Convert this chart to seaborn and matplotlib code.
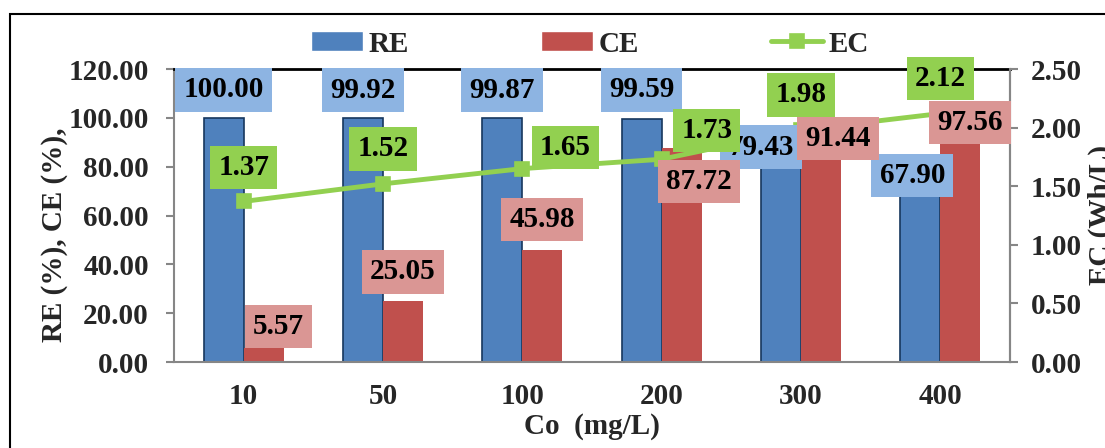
import numpy as np
import pandas as pd
import matplotlib
matplotlib.use("Agg")
import matplotlib.pyplot as plt
from matplotlib.patches import Rectangle
import seaborn as sns

# Data
co = ["10", "50", "100", "200", "300", "400"]
re_vals = [100.00, 99.92, 99.87, 99.59, 79.43, 67.90]
ce_vals = [5.57, 25.05, 45.98, 87.72, 91.44, 97.56]
ec_vals = [1.37, 1.52, 1.65, 1.73, 1.98, 2.12]

# Label offsets in pixels (dx, dy) relative to each data point
re_off = [(0, 28), (0, 28), (0, 28), (0, 29), (-20, 21), (-8, 21)]
ce_off = [(15, 22), (0, 29), (0, 30), (17, -34), (17, 0), (10, 1)]
ec_off = [(0, 34), (0, 35), (43, 21), (45, 29), (0, 35), (0, 35)]

sns.set_style("white")
plt.rcParams["font.family"] = ["Liberation Serif", "DejaVu Serif"]
plt.rcParams["font.weight"] = "bold"
FS = 21

RE_C, CE_C, EC_C = "#4F81BD", "#C0504D", "#92D050"
RE_BOX, CE_BOX = "#8DB4E2", "#DA9694"
GREY = "#868686"

df = pd.DataFrame({
    "Co": co * 2,
    "value": re_vals + ce_vals,
    "series": ["RE"] * len(co) + ["CE"] * len(co),
})

fig = plt.figure(figsize=(11.05, 4.48), dpi=100)
ax = fig.add_axes([174 / 1105, 1 - 362 / 448, (1010 - 174) / 1105, (362 - 69) / 448])

sns.barplot(data=df, x="Co", y="value", hue="series", order=co,
            hue_order=["RE", "CE"], palette=[RE_C, CE_C], width=0.575,
            gap=0, saturation=1, ax=ax)
for bar in ax.containers[0]:
    bar.set_edgecolor("#17375E")
    bar.set_linewidth(1.2)
for bar in ax.containers[1]:
    bar.set_edgecolor(CE_C)
    bar.set_linewidth(0)

ax.set_ylim(0, 120)
ax.set_yticks(np.arange(0, 121, 20))
ax.set_yticklabels([f"{v:.2f}" for v in np.arange(0, 121, 20)])
ax.set_xlabel("Co  (mg/L)", fontsize=FS, fontweight="bold", labelpad=2)
ax.set_ylabel("")
ax.tick_params(axis="y", length=6, width=1.5, color=GREY, pad=12, labelsize=FS, left=True)
ax.tick_params(axis="x", length=0, pad=15, labelsize=FS)
for s in ["left", "bottom", "right"]:
    ax.spines[s].set_color(GREY)
    ax.spines[s].set_linewidth(1.5)
ax.spines["top"].set_color("black")
ax.spines["top"].set_linewidth(2)
for lbl in ax.get_xticklabels() + ax.get_yticklabels():
    lbl.set_fontweight("bold")

ax2 = ax.twinx()
sns.pointplot(x=co, y=ec_vals, order=co, ax=ax2, color=EC_C, marker="s",
              markersize=9, linewidth=3.5, label="EC")
ax2.set_ylim(0, 2.5)
ax2.set_yticks(np.arange(0, 2.51, 0.5))
ax2.set_yticklabels([f"{v:.2f}" for v in np.arange(0, 2.51, 0.5)])
ax2.tick_params(axis="y", length=6, width=1.5, color=GREY, pad=9, labelsize=FS, right=True)
ax2.set_ylabel("")
ax2.spines["top"].set_visible(False)
ax2.spines["left"].set_visible(False)
ax2.spines["bottom"].set_visible(False)
ax2.spines["right"].set_color(GREY)
ax2.spines["right"].set_linewidth(1.5)
for lbl in ax2.get_yticklabels():
    lbl.set_fontweight("bold")

# Value labels in coloured boxes
def boxed(x, y, txt, off, fc, trans, z):
    ax2.annotate(txt, xy=(x, y), xycoords=trans, xytext=off,
                 textcoords="offset pixels", ha="center", va="center",
                 fontsize=FS, fontweight="bold", color="black", zorder=z,
                 annotation_clip=False,
                 bbox=dict(boxstyle="square,pad=0.28", fc=fc, ec="none"))

for bar, v, off in zip(ax.containers[0], re_vals, re_off):
    boxed(bar.get_x() + bar.get_width() / 2, v, f"{v:.2f}", off, RE_BOX, ax.transData, 6)
for bar, v, off in zip(ax.containers[1], ce_vals, ce_off):
    boxed(bar.get_x() + bar.get_width() / 2, v, f"{v:.2f}", off, CE_BOX, ax.transData, 7)
for i, (v, off) in enumerate(zip(ec_vals, ec_off)):
    boxed(i, v, f"{v:.2f}", off, EC_C, ax2.transData, 8)

# Legend
h1, l1 = ax.get_legend_handles_labels()
h2, l2 = ax2.get_legend_handles_labels()
if ax.get_legend() is not None:
    ax.get_legend().remove()
if ax2.get_legend() is not None:
    ax2.get_legend().remove()
fig.legend(h1 + h2, l1 + l2, loc="center", bbox_to_anchor=(590 / 1105, 1 - 44 / 448),
           ncol=3, frameon=False, handlelength=1.8,
           handletextpad=0.2, columnspacing=4.5,
           prop={"weight": "bold", "size": FS})

# Axis titles
fig.text(55 / 1105, 1 - 235 / 448, "RE (%), CE (%),", rotation=90, ha="center",
         va="center", fontsize=FS, fontweight="bold")
fig.text(1101 / 1105, 1 - 215 / 448, "EC (Wh/L)", rotation=90, ha="center",
         va="center", fontsize=FS, fontweight="bold")

# Chart frame
fig.add_artist(Rectangle((10 / 1105, -0.1), 1.2, 1.1 - 14 / 448,
                         transform=fig.transFigure, fill=False,
                         ec="black", lw=1.5))

fig.savefig("out.png", dpi=100)
